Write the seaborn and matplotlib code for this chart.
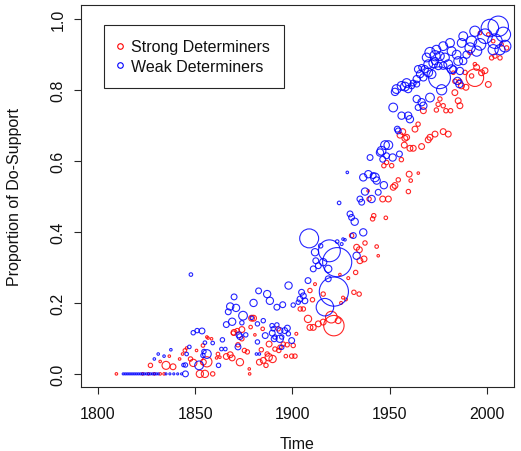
import matplotlib
matplotlib.use("Agg")
import matplotlib.pyplot as plt
import pandas as pd
import seaborn as sns
from matplotlib.lines import Line2D

# Strong determiners: year, proportion of do-support, token count
strong_year = [
    1809.5, 1823, 1826, 1829, 1832, 1834, 1827, 1832, 1835, 1836.7,
    1838.6, 1842, 1843.5, 1844.7, 1845.6, 1847.6, 1849, 1850.7, 1852.4, 1854,
    1854.2, 1855, 1856, 1856, 1856.6, 1858.4, 1859, 1861, 1861.7, 1862.7,
    1866, 1868, 1869, 1869.6, 1870, 1871.6, 1872, 1873, 1874, 1874,
    1875.3, 1876.8, 1877.8, 1878, 1878.5, 1879, 1880, 1880.7, 1883, 1884,
    1884.7, 1885, 1886.4, 1887, 1887.8, 1888, 1889.8, 1891, 1892.7, 1893,
    1893.6, 1895.3, 1896.6, 1897.3, 1899.6, 1900.4, 1901.3, 1902, 1904, 1905.6,
    1908, 1909, 1909, 1910.3, 1910.7, 1911.6, 1913.3, 1915.8, 1915.8, 1920,
    1921.3, 1923.5, 1924.4, 1925, 1926, 1927.5, 1928.7, 1930.4, 1931.6, 1932.5,
    1933, 1934.3, 1934.4, 1934.7, 1936.8, 1937.3, 1938.9, 1939.4, 1941.2, 1941.8,
    1943.3, 1944.1, 1946.4, 1947, 1948, 1948.4, 1949.3, 1951, 1951.8, 1952.7,
    1954.4, 1955.3, 1956, 1956.7, 1957.5, 1957.8, 1958.7, 1959.6, 1960, 1960.4,
    1960.8, 1962.1, 1963, 1964.6, 1964.7, 1966.4, 1967.3, 1969.8, 1970.7, 1973.3,
    1974, 1974.9, 1975.8, 1977.5, 1977.5, 1978.9, 1980.1, 1981.3, 1982.7, 1983.5,
    1983.5, 1985.2, 1986, 1986.1, 1986.9, 1988.7, 1989.2, 1991.3, 1992.1, 1993.8,
    1993.8, 1994.7, 1996.4, 1997.2, 1999, 2000.7, 2000.7, 2002.4, 2003.2, 2004.1,
    2006.7, 2007.5, 2010.1,
]
strong_prop = [
    0.0, 0.0, 0.0, 0.0, 0.0, 0.0, 0.024, 0.035, 0.024, 0.05,
    0.02, 0.042, 0.056, 0.066, 0.073, 0.042, 0.031, 0.066, 0.0, 0.08,
    0.033, 0.0, 0.034, 0.104, 0.101, 0.099, 0.0, 0.045, 0.056, 0.047,
    0.049, 0.054, 0.045, 0.115, 0.117, 0.122, 0.082, 0.033, 0.125, 0.099,
    0.066, 0.062, 0.014, 0.0, 0.132, 0.157, 0.157, 0.11, 0.033, 0.068,
    0.127, 0.038, 0.024, 0.056, 0.047, 0.084, 0.042, 0.07, 0.127, 0.066,
    0.075, 0.084, 0.05, 0.082, 0.05, 0.08, 0.05, 0.113, 0.183, 0.183,
    0.155, 0.131, 0.235, 0.209, 0.131, 0.253, 0.141, 0.146, 0.225, 0.16,
    0.136, 0.15, 0.28, 0.2, 0.215, 0.21, 0.27, 0.39, 0.23, 0.286,
    0.357, 0.225, 0.35, 0.319, 0.324, 0.369, 0.516, 0.493, 0.437, 0.446,
    0.359, 0.333, 0.493, 0.587, 0.44, 0.596, 0.493, 0.587, 0.526, 0.531,
    0.547, 0.673, 0.604, 0.683, 0.645, 0.664, 0.667, 0.514, 0.563, 0.636,
    0.545, 0.636, 0.69, 0.704, 0.566, 0.641, 0.742, 0.66, 0.667, 0.676,
    0.744, 0.76, 0.775, 0.683, 0.756, 0.742, 0.676, 0.742, 0.849, 0.793,
    0.825, 0.77, 0.825, 0.756, 0.812, 0.85, 0.808, 0.906, 0.84, 0.835,
    0.873, 0.864, 0.961, 0.849, 0.855, 0.816, 0.957, 0.891, 0.938, 0.896,
    0.891, 0.929, 0.919,
]
strong_tokens = [
    3, 3, 3, 3, 3, 3, 9, 3, 30, 3,
    16, 3, 3, 6, 3, 9, 25, 3, 25, 6,
    16, 25, 49, 3, 3, 3, 9, 3, 6, 3,
    16, 16, 16, 9, 16, 9, 9, 25, 16, 9,
    9, 9, 3, 3, 6, 16, 16, 3, 16, 9,
    6, 16, 9, 9, 25, 16, 25, 9, 9, 9,
    9, 9, 6, 9, 9, 9, 9, 4, 9, 9,
    25, 16, 9, 9, 16, 4, 16, 16, 9, 64,
    196, 16, 3, 4, 4, 4, 4, 9, 9, 9,
    16, 9, 16, 16, 16, 9, 3, 9, 9, 9,
    6, 3, 16, 9, 6, 9, 16, 9, 16, 16,
    9, 16, 9, 16, 16, 16, 16, 9, 16, 16,
    6, 16, 16, 9, 3, 16, 16, 16, 16, 16,
    9, 9, 9, 16, 9, 9, 16, 9, 6, 16,
    9, 16, 9, 16, 16, 9, 16, 9, 9, 144,
    6, 16, 6, 16, 16, 16, 6, 9, 6, 9,
    9, 6, 9,
]

# Weak determiners: year, proportion of do-support, token count
weak_year = [
    1813, 1814, 1815, 1816, 1817, 1818, 1819, 1820, 1821, 1822,
    1823, 1824, 1825, 1826, 1827, 1828, 1829, 1830, 1831, 1835,
    1837, 1839, 1841, 1843,
    1829, 1831, 1834, 1837.5, 1844, 1845, 1845, 1845.6, 1847, 1847.8,
    1849, 1851, 1853.5, 1852, 1854, 1854.5, 1855, 1856, 1859, 1862,
    1863.5, 1864, 1865.5, 1866, 1867, 1868, 1869, 1870, 1871, 1872,
    1872.5, 1873, 1874, 1874.6, 1876, 1879, 1880, 1881.5, 1882, 1882,
    1882.6, 1883, 1885, 1886, 1887, 1888.4, 1889.5, 1889.6, 1890.1, 1890.6,
    1891, 1892, 1892, 1893.5, 1893.6, 1894.5, 1894.5, 1895, 1896, 1897.4,
    1897.9, 1898, 1899.6, 1900.4, 1903, 1903.9, 1904.7, 1905.6, 1906.4, 1908,
    1908.6, 1910.7, 1911.6, 1912, 1913.3, 1914.5, 1915.8, 1916.7, 1918.4, 1918.4,
    1919, 1921.3, 1923, 1923, 1924, 1925.3, 1926, 1927, 1928.2, 1929.6,
    1930.4, 1931.3, 1932, 1933, 1934.7, 1935.6, 1936.4, 1936.4, 1937.3, 1939,
    1939.9, 1940.7, 1941.5, 1942.4, 1943.3, 1944.1, 1945, 1945.8, 1946.4, 1947,
    1947.6, 1948.4, 1949.3, 1951.5, 1951.8, 1952.7, 1953.5, 1953.9, 1954.4, 1955,
    1956.1, 1956.1, 1957.8, 1958.7, 1959.5, 1959.5, 1960.4, 1961.3, 1962.1, 1963.9,
    1963.9, 1963.9, 1964.6, 1964.6, 1965.6, 1966.4, 1966.4, 1967.3, 1967.3, 1968,
    1969, 1969.8, 1969.8, 1970.7, 1970.7, 1971.5, 1972.4, 1973.3, 1973.3, 1974,
    1975, 1975.6, 1975.8, 1976.7, 1977.5, 1977.5, 1978.4, 1980.1, 1981, 1981.8,
    1981.8, 1982.7, 1984.4, 1984.8, 1985.2, 1985.8, 1986.1, 1987, 1987.8, 1987.8,
    1989.5, 1991.3, 1992.1, 1993.8, 1994.7, 1996.4, 1999, 2001.5, 2003.2, 2004.1,
    2005.8, 2006.7, 2008.4, 2009.3,
]
weak_prop = [
    0.0, 0.0, 0.0, 0.0, 0.0, 0.0, 0.0, 0.0, 0.0, 0.0,
    0.0, 0.0, 0.0, 0.0, 0.0, 0.0, 0.0, 0.0, 0.0, 0.0,
    0.0, 0.0, 0.0, 0.0,
    0.042, 0.056, 0.05, 0.068, 0.025, 0.0, 0.025, 0.056, 0.076, 0.28,
    0.116, 0.122, 0.121, 0.024, 0.052, 0.063, 0.088, 0.056, 0.087, 0.024,
    0.07, 0.096, 0.07, 0.139, 0.175, 0.19, 0.147, 0.217, 0.186, 0.076,
    0.11, 0.105, 0.144, 0.164, 0.11, 0.158, 0.2, 0.056, 0.09, 0.141,
    0.234, 0.056, 0.15, 0.108, 0.225, 0.206, 0.136, 0.115, 0.127, 0.099,
    0.104, 0.188, 0.138, 0.099, 0.122, 0.075, 0.104, 0.195, 0.122, 0.129,
    0.113, 0.249, 0.094, 0.194, 0.202, 0.211, 0.23, 0.22, 0.206, 0.263,
    0.382, 0.296, 0.343, 0.319, 0.305, 0.361, 0.315, 0.188, 0.296, 0.268,
    0.347, 0.232, 0.315, 0.373, 0.482, 0.366, 0.38, 0.378, 0.568, 0.451,
    0.441, 0.39, 0.429, 0.333, 0.493, 0.484, 0.399, 0.554, 0.514, 0.563,
    0.61, 0.493, 0.559, 0.554, 0.545, 0.512, 0.624, 0.629, 0.605, 0.532,
    0.645, 0.615, 0.645, 0.61, 0.751, 0.795, 0.803, 0.69, 0.685, 0.62,
    0.728, 0.812, 0.81, 0.82, 0.728, 0.803, 0.718, 0.812, 0.82, 0.831,
    0.817, 0.775, 0.859, 0.751, 0.845, 0.864, 0.766, 0.836, 0.756, 0.859,
    0.892, 0.85, 0.873, 0.906, 0.779, 0.845, 0.876, 0.897, 0.882, 0.914,
    0.868, 0.835, 0.896, 0.801, 0.869, 0.924, 0.892, 0.873, 0.933, 0.859,
    0.91, 0.858, 0.9, 0.826, 0.882, 0.817, 0.854, 0.933, 0.952, 0.882,
    0.9, 0.919, 0.938, 0.966, 0.91, 0.929, 0.952, 0.975, 0.914, 0.938,
    0.98, 0.914, 0.957, 0.924,
]
weak_tokens = [
    2, 2, 2, 2, 2, 2, 2, 2, 2, 2,
    2, 2, 2, 2, 2, 2, 2, 2, 2, 2,
    2, 2, 2, 2,
    3, 3, 3, 3, 6, 16, 9, 6, 6, 6,
    9, 9, 16, 36, 9, 9, 6, 36, 6, 9,
    6, 9, 6, 16, 16, 25, 25, 16, 25, 16,
    16, 16, 9, 36, 9, 6, 25, 3, 9, 9,
    16, 3, 9, 16, 25, 25, 9, 16, 9, 16,
    9, 16, 9, 25, 16, 9, 9, 16, 16, 16,
    9, 25, 16, 9, 9, 16, 16, 16, 16, 16,
    169, 16, 25, 16, 16, 9, 25, 144, 25, 16,
    225, 400, 400, 6, 6, 4, 3, 3, 3, 16,
    16, 16, 25, 25, 16, 16, 25, 25, 25, 25,
    16, 25, 16, 36, 25, 16, 25, 36, 16, 25,
    36, 16, 36, 25, 36, 25, 36, 16, 16, 16,
    25, 36, 36, 36, 25, 25, 25, 16, 16, 25,
    16, 25, 25, 16, 25, 16, 25, 25, 25, 25,
    36, 36, 36, 49, 36, 36, 36, 49, 25, 36,
    25, 225, 36, 49, 25, 36, 36, 36, 36, 36,
    36, 25, 36, 25, 36, 25, 25, 36, 36, 25,
    25, 49, 49, 49, 49, 64, 100, 144, 49, 100,
    196, 49, 100, 64,
]

groups = ["Strong Determiners", "Weak Determiners"]
colors = {"Strong Determiners": "#FF0000", "Weak Determiners": "#0000FF"}
x_ticks = [1800, 1850, 1900, 1950, 2000]
y_ticks = [0.0, 0.2, 0.4, 0.6, 0.8, 1.0]
y_tick_labels = ["0.0", "0.2", "0.4", "0.6", "0.8", "1.0"]

assert len(strong_year) == len(strong_prop) == len(strong_tokens)
assert len(weak_year) == len(weak_prop) == len(weak_tokens)

df = pd.concat([
    pd.DataFrame({"year": strong_year, "prop": strong_prop,
                  "tokens": strong_tokens, "det": groups[0]}),
    pd.DataFrame({"year": weak_year, "prop": weak_prop,
                  "tokens": weak_tokens, "det": groups[1]}),
], ignore_index=True)

sns.set_style("ticks")
plt.rcParams["font.family"] = ["Liberation Sans", "DejaVu Sans"]

fig = plt.figure(figsize=(5.21, 4.52), dpi=100)
ax = fig.add_axes([81 / 521, 1 - 388 / 452, 433 / 521, 382 / 452])

# marker area proportional to token count
n_min, n_max = df["tokens"].min(), df["tokens"].max()
area_per_token = 1.1
sns.scatterplot(
    data=df, x="year", y="prop", hue="det", palette=colors,
    size="tokens", sizes=(area_per_token * n_min, area_per_token * n_max),
    size_norm=(n_min, n_max), legend=False, ax=ax,
    linewidth=0.8, alpha=0.85,
)
# open circles: move the hue colours to the outline
for coll in ax.collections:
    fc = coll.get_facecolors()
    coll.set_edgecolors(fc)
    coll.set_facecolors("none")

ax.set_xlim(1791.3, 2013.9)
ax.set_ylim(-0.037, 1.04)
ax.set_xticks(x_ticks)
ax.set_xticklabels([str(t) for t in x_ticks])
ax.set_yticks(y_ticks)
ax.set_yticklabels(y_tick_labels, rotation=90, va="center")

edge = "#262626"
for sp in ax.spines.values():
    sp.set_visible(True)
    sp.set_color(edge)
    sp.set_linewidth(0.8)
ax.tick_params(axis="both", direction="out", length=5, width=0.8,
               color=edge, labelsize=11.5, labelcolor="#111111")
ax.tick_params(axis="x", pad=9)
ax.tick_params(axis="y", pad=6)

ax.set_xlabel("Time", fontsize=11.5, color="#111111")
ax.set_ylabel("Proportion of Do-Support", fontsize=11.5, color="#111111")
ax.xaxis.label.set_verticalalignment("center")
ax.xaxis.set_label_coords(0.5, -(445 - 388) / 382)
ax.yaxis.label.set_verticalalignment("center")
ax.yaxis.set_label_coords((15 - 81) / 433, 0.5)

handles = [
    Line2D([], [], linestyle="none", marker="o", markersize=4,
           markerfacecolor="none", markeredgecolor=colors[g],
           markeredgewidth=0.8, label=g)
    for g in groups
]
leg = ax.legend(
    handles=handles, loc="upper left", bbox_to_anchor=(23 / 433, 1 - 20 / 382),
    borderaxespad=0, frameon=True, fancybox=False, shadow=False,
    fontsize=11.5, borderpad=0.9, labelspacing=0.28,
    handlelength=0.2, handletextpad=0.6,
)
frame = leg.get_frame()
frame.set_edgecolor(edge)
frame.set_linewidth(0.8)
frame.set_alpha(1)
for t in leg.get_texts():
    t.set_color("#111111")

fig.savefig("out.png", dpi=100)
